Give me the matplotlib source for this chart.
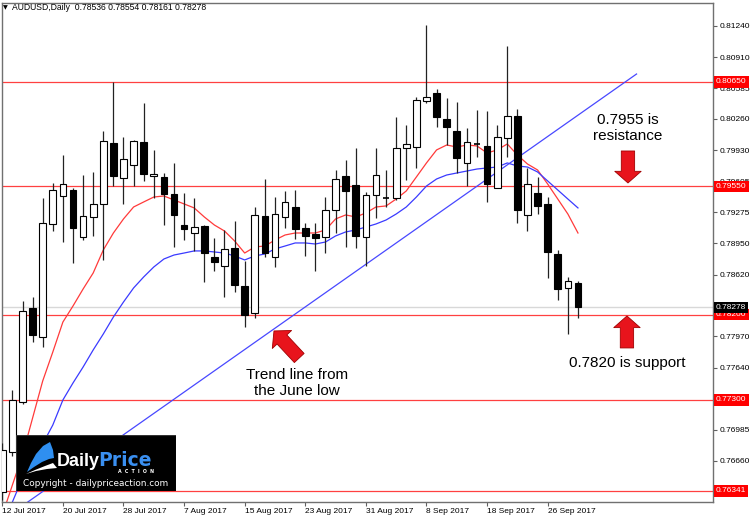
import matplotlib
matplotlib.use('Agg')
import matplotlib.pyplot as plt
from matplotlib.patches import Rectangle, Polygon
import matplotlib.transforms as mtransforms

# AUDUSD daily bars, 12 Jul 2017 .. 29 Sep 2017
opens = [0.76331, 0.76752, 0.77279, 0.78269, 0.77964, 0.79154, 0.79449, 0.79512, 0.79017, 0.79228,
         0.79365, 0.80007, 0.79639, 0.79776, 0.80018, 0.79660, 0.79649, 0.79470, 0.79143, 0.79059,
         0.79133, 0.78806, 0.78711, 0.78901, 0.78501, 0.78216, 0.79238, 0.78806, 0.79228, 0.79333,
         0.79112, 0.79049, 0.79017, 0.79302, 0.79660, 0.79565, 0.79017, 0.79460, 0.79428, 0.79428,
         0.79955, 0.79965, 0.80450, 0.80534, 0.80260, 0.80134, 0.79797, 0.79998, 0.79976, 0.79533,
         0.80060, 0.80292, 0.79249, 0.79481, 0.79365, 0.78838, 0.78480, 0.78536]
highs = [0.76847, 0.77405, 0.78343, 0.78385, 0.79428, 0.79586, 0.79881, 0.79533, 0.79670, 0.79702,
         0.80134, 0.80650, 0.80071, 0.80039, 0.80429, 0.79934, 0.79691, 0.79797, 0.79481, 0.79428,
         0.79140, 0.79007, 0.79091, 0.79186, 0.78764, 0.79333, 0.79628, 0.79438, 0.79502, 0.79512,
         0.79165, 0.79165, 0.79438, 0.79723, 0.79828, 0.79955, 0.79491, 0.79955, 0.79723, 0.80281,
         0.80197, 0.80492, 0.81251, 0.80576, 0.80481, 0.80439, 0.80165, 0.80355, 0.80345, 0.80197,
         0.81029, 0.80366, 0.79744, 0.79649, 0.79438, 0.78880, 0.78596, 0.78554]
lows = [0.76246, 0.76710, 0.77258, 0.77911, 0.77858, 0.79080, 0.78964, 0.78743, 0.78985, 0.79028,
        0.78775, 0.79554, 0.79365, 0.79554, 0.79607, 0.79428, 0.79143, 0.78912, 0.78985, 0.78870,
        0.78543, 0.78659, 0.78385, 0.78438, 0.78069, 0.78164, 0.78806, 0.78701, 0.79112, 0.78996,
        0.78817, 0.78659, 0.78848, 0.79059, 0.78912, 0.78901, 0.78711, 0.79217, 0.79333, 0.79407,
        0.79618, 0.79744, 0.80429, 0.80176, 0.79986, 0.79691, 0.79554, 0.79860, 0.79386, 0.79533,
        0.79860, 0.79165, 0.79080, 0.79259, 0.78585, 0.78353, 0.77995, 0.78161]
closes = [0.76773, 0.77300, 0.78237, 0.77985, 0.79165, 0.79512, 0.79575, 0.79112, 0.79238, 0.79365,
          0.80028, 0.79660, 0.79839, 0.80028, 0.79681, 0.79681, 0.79470, 0.79249, 0.79101, 0.79122,
          0.78848, 0.78754, 0.78891, 0.78511, 0.78195, 0.79249, 0.78848, 0.79259, 0.79386, 0.79101,
          0.79028, 0.79007, 0.79302, 0.79628, 0.79502, 0.79028, 0.79460, 0.79670, 0.79425, 0.79955,
          0.79997, 0.80460, 0.80492, 0.80281, 0.80176, 0.79849, 0.80018, 0.79995, 0.79575, 0.80071,
          0.80292, 0.79302, 0.79575, 0.79344, 0.78859, 0.78469, 0.78553, 0.78278]

# moving averages as drawn on the chart
ma_fast = [0.76088, 0.76404, 0.76720, 0.77110, 0.77500, 0.77805, 0.78121, 0.78290, 0.78469, 0.78638,
           0.78880, 0.79059, 0.79207, 0.79333, 0.79386, 0.79438, 0.79449, 0.79407, 0.79365, 0.79323,
           0.79228, 0.79143, 0.79080, 0.78975, 0.78848, 0.78912, 0.78922, 0.78985, 0.79038, 0.79059,
           0.79059, 0.79059, 0.79091, 0.79207, 0.79249, 0.79228, 0.79270, 0.79333, 0.79344, 0.79417,
           0.79502, 0.79649, 0.79797, 0.79934, 0.79986, 0.79965, 0.79986, 0.79976, 0.79902, 0.79934,
           0.79997, 0.79881, 0.79786, 0.79723, 0.79575, 0.79417, 0.79259, 0.79059]
ma_slow = [0.75930, 0.76225, 0.76478, 0.76668, 0.76836, 0.77036, 0.77300, 0.77479, 0.77647, 0.77827,
           0.77995, 0.78174, 0.78332, 0.78480, 0.78596, 0.78701, 0.78785, 0.78827, 0.78848, 0.78870,
           0.78870, 0.78859, 0.78848, 0.78817, 0.78775, 0.78817, 0.78838, 0.78891, 0.78922, 0.78954,
           0.78954, 0.78943, 0.78964, 0.79028, 0.79070, 0.79091, 0.79122, 0.79154, 0.79196, 0.79259,
           0.79333, 0.79438, 0.79554, 0.79628, 0.79670, 0.79691, 0.79712, 0.79733, 0.79744, 0.79754,
           0.79797, 0.79765, 0.79754, 0.79702, 0.79607, 0.79512, 0.79417, 0.79323]

date_ticks = [0, 6, 12, 18, 24, 30, 36, 42, 48, 54]
date_labels = ['12 Jul 2017', '20 Jul 2017', '28 Jul 2017', '7 Aug 2017', '15 Aug 2017',
               '23 Aug 2017', '31 Aug 2017', '8 Sep 2017', '18 Sep 2017', '26 Sep 2017']
price_ticks = [0.81240, 0.80910, 0.80585, 0.80260, 0.79930, 0.79605, 0.79275, 0.78950,
               0.78620, 0.77970, 0.77640, 0.76985, 0.76660]
levels = [0.80650, 0.79550, 0.78200, 0.77300, 0.76341]
last_price = 0.78278
trend_x = [0, 62.8]
trend_y = [0.76036, 0.80734]

plt.rcParams['font.family'] = ['Liberation Sans', 'DejaVu Sans']

fig = plt.figure(figsize=(7.5, 5.18), dpi=100)
ax = fig.add_axes([2 / 750, 16 / 518, 711 / 750, 499 / 518])
ax.set_xlim(-0.03, 70.37)
ax.set_ylim(0.76225, 0.81482)

# horizontal levels
ax.axhline(last_price, color='#d8d8d8', lw=1.0, zorder=1)
for lv in levels:
    ax.axhline(lv, color='#ff4040', lw=0.9, zorder=1)

xs = list(range(len(opens)))
ax.plot(xs, ma_fast, color='#ff3a3a', lw=0.9, zorder=2)
ax.plot(xs, ma_slow, color='#3a3aff', lw=0.9, zorder=2)
ax.plot(trend_x, trend_y, color='#4848ff', lw=0.9, zorder=2)

# candles
w = 0.66
for i in xs:
    o, h, l, c = opens[i], highs[i], lows[i], closes[i]
    ax.vlines(i, l, h, color='#222222', lw=0.9, zorder=3)
    lo, hi = min(o, c), max(o, c)
    if hi - lo < 0.00004:
        ax.hlines(o, i - w / 2, i + w / 2, color='black', lw=1.2, zorder=4)
    else:
        fc = 'white' if c > o else 'black'
        ax.add_patch(Rectangle((i - w / 2, lo), w, hi - lo, facecolor=fc,
                               edgecolor='black', lw=0.8, zorder=4))

# axes look
for s in ax.spines.values():
    s.set_color('#707070')
    s.set_linewidth(1.0)
ax.yaxis.tick_right()
ax.set_yticks(price_ticks)
ax.set_yticklabels([f'{p:.5f}' for p in price_ticks])
ax.set_xticks(date_ticks)
ax.set_xticklabels(date_labels)
ax.tick_params(axis='both', labelsize=6, length=3, width=0.8, color='#606060', pad=1.5)
for lbl in ax.get_xticklabels():
    lbl.set_ha('left')

# price tags on the right axis
off = mtransforms.offset_copy(ax.get_yaxis_transform(), fig=fig, x=3, y=0, units='dots')
for lv in levels:
    ax.text(1.0, lv, f'{lv:.5f}', transform=off, ha='left', va='center', fontsize=6,
            color='white', clip_on=False, zorder=10,
            bbox=dict(boxstyle='square,pad=0.25', fc='#ff0000', ec='none'))
ax.text(1.0, last_price, f'{last_price:.5f}', transform=off, ha='left', va='center',
        fontsize=6, color='white', clip_on=False, zorder=10,
        bbox=dict(boxstyle='square,pad=0.25', fc='black', ec='none'))

# header
fig.text(3 / 750, 1 - 8 / 518, '\u25bc', fontsize=4.5, va='center', ha='left',
         family=['DejaVu Sans'])
fig.text(12 / 750, 1 - 8 / 518, 'AUDUSD,Daily  0.78536 0.78554 0.78161 0.78278',
         fontsize=6.2, va='center', ha='left')

# annotations
red_arrow = dict(arrowstyle='simple,head_width=0.95,head_length=0.42,tail_width=0.48',
                 fc='#e8141c', ec='#a00000', lw=0.6, shrinkA=0, shrinkB=0,
                 mutation_scale=20)
ax.annotate('', xy=(61.95, 0.79586), xytext=(61.95, 0.79923), arrowprops=red_arrow, zorder=6)
ax.annotate('', xy=(61.85, 0.78185), xytext=(61.85, 0.77848), arrowprops=red_arrow, zorder=6)
ax.annotate('', xy=(26.9, 0.78027), xytext=(29.4, 0.77742), arrowprops=red_arrow, zorder=6)

ax.text(61.95, 0.80165, '0.7955 is\nresistance', fontsize=11, ha='center', va='center',
        linespacing=1.2, zorder=6)
ax.text(61.85, 0.77690, '0.7820 is support', fontsize=11, ha='center', va='center', zorder=6)
ax.text(29.2, 0.77479, 'Trend line from\nthe June low', fontsize=11, ha='center', va='center',
        linespacing=1.2, zorder=6)

# logo box
lg = fig.add_axes([16 / 750, 1 - 491 / 518, 160 / 750, 56 / 518])
lg.set_xlim(0, 160)
lg.set_ylim(56, 0)
lg.axis('off')
lg.add_patch(Rectangle((0, 0), 160, 56, facecolor='black', edgecolor='#333333', lw=0.8))
lg.add_patch(Polygon([(34, 7), (27, 11), (20, 19), (15, 28), (11, 37), (18, 32), (26, 27),
                      (33, 24), (38, 23), (37, 15)], closed=True, fc='#2f8ff0', ec='none'))
lg.add_patch(Polygon([(10, 39), (19, 35), (29, 31), (37, 28), (41, 33), (31, 34), (20, 36)],
                     closed=True, fc='white', ec='none'))
lg.text(41, 31, 'Daily', color='white', fontsize=13, fontweight='bold', ha='left',
        va='baseline', family=['Liberation Sans'])
lg.text(82, 31, 'Price', color='#3a8ff0', fontsize=13.5, fontweight='bold', ha='left',
        va='baseline', family=['DejaVu Sans'])
lg.text(120, 36.5, 'A  C  T  I  O  N', color='white', fontsize=3.4, ha='center',
        va='center', fontweight='bold', family=['DejaVu Sans'])
lg.text(79.5, 49, 'Copyright - dailypriceaction.com', color='white', fontsize=6.4,
        ha='center', va='center', family=['DejaVu Sans'])

fig.savefig('out.png', dpi=100)
